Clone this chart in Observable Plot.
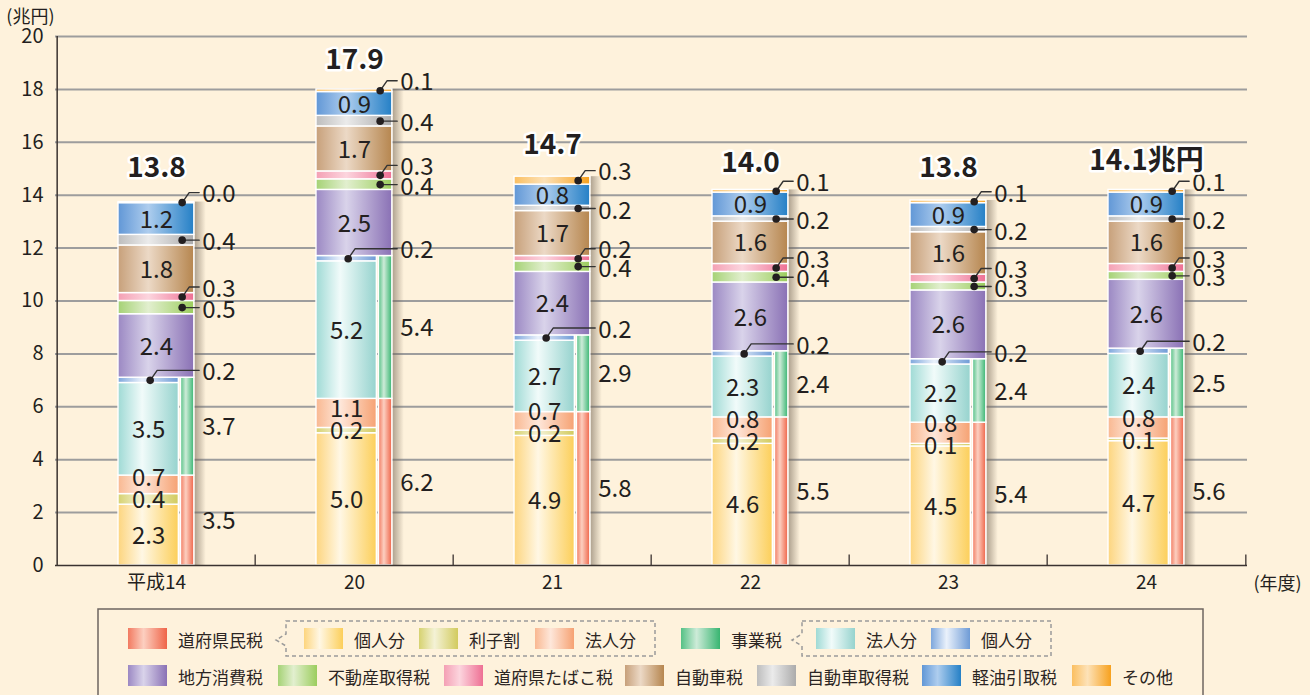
<!DOCTYPE html>
<html>
<head>
<meta charset="utf-8">
<script src="https://cdn.jsdelivr.net/npm/d3@7"></script>
<script src="https://cdn.jsdelivr.net/npm/@observablehq/plot@0.6"></script>
<style>
html,body{margin:0;padding:0;background:#fef2dc;}
body{width:1310px;height:695px;position:relative;overflow:hidden;font-family:"Noto Sans CJK JP","Noto Sans",sans-serif;color:#231f20;}
#chart{position:absolute;left:0;top:0;}
#legend{position:absolute;left:0;top:600px;}
</style>
</head>
<body>
<div id="chart"></div>
<div id="legend"></div>
<script>
// ---------------- data (兆円) ----------------
const years        = ["平成14", "20", "21", "22", "23", "24"];
const kojin        = [2.3, 5.0, 4.9, 4.6, 4.5, 4.7];   // 道府県民税 個人分
const rishiwari    = [0.4, 0.2, 0.2, 0.2, 0.1, 0.1];   // 道府県民税 利子割
const houjin       = [0.7, 1.1, 0.7, 0.8, 0.8, 0.8];   // 道府県民税 法人分
const fukenminzei  = [3.5, 6.2, 5.8, 5.5, 5.4, 5.6];   // 道府県民税 計
const jigyouHoujin = [3.5, 5.2, 2.7, 2.3, 2.2, 2.4];   // 事業税 法人分
const jigyouKojin  = [0.2, 0.2, 0.2, 0.2, 0.2, 0.2];   // 事業税 個人分
const jigyouzei    = [3.7, 5.4, 2.9, 2.4, 2.4, 2.5];   // 事業税 計
const chihouShouhi = [2.4, 2.5, 2.4, 2.6, 2.6, 2.6];   // 地方消費税
const fudousan     = [0.5, 0.4, 0.4, 0.4, 0.3, 0.3];   // 不動産取得税
const tabako       = [0.3, 0.3, 0.2, 0.3, 0.3, 0.3];   // 道府県たばこ税
const jidousha     = [1.8, 1.7, 1.7, 1.6, 1.6, 1.6];   // 自動車税
const shutoku      = [0.4, 0.4, 0.2, 0.2, 0.2, 0.2];   // 自動車取得税
const keiyu        = [1.2, 0.9, 0.8, 0.9, 0.9, 0.9];   // 軽油引取税
const sonota       = [0.04, 0.1, 0.3, 0.1, 0.1, 0.1];  // その他 (shown as 0.0 in 平成14)
const totals       = [13.8, 17.9, 14.7, 14.0, 13.8, 14.1];
const yTicks       = [0, 2, 4, 6, 8, 10, 12, 14, 16, 18, 20];

const legendRow1 = [["道府県民税","fukenmin"],["個人分","kojin"],["利子割","rishi"],["法人分","houjin"],
                    ["事業税","jigyou"],["法人分","jHoujin"],["個人分","jKojin"]];
const legendRow2 = [["地方消費税","chihou"],["不動産取得税","fudousan"],["道府県たばこ税","tabako"],["自動車税","jidousha"],
                    ["自動車取得税","shutoku"],["軽油引取税","keiyu"],["その他","sonota"]];

// gradient colours (left, light, right)
const grads = {
  kojin:    ["#fdd57e", "#fff7e4", "#fccf5a"],
  rishi:    ["#d6d270", "#f4f2d6", "#d2cb5e"],
  houjin:   ["#f9b891", "#fee7da", "#f6a273"],
  fukenmin: ["#f27a60", "#fccfc0", "#ef6448"],
  jigyou:   ["#55c185", "#cdebd8", "#38b571"],
  jHoujin:  ["#9fdad5", "#f1fbfa", "#96d3ce"],
  jKojin:   ["#7ea7dc", "#eaf1fb", "#6e9bd6"],
  chihou:   ["#9b88c3", "#d9d3ea", "#8a71b5"],
  fudousan: ["#a5d275", "#e2efcf", "#9bcd5d"],
  tabako:   ["#f4a0b4", "#fcd5de", "#ee7094"],
  jidousha: ["#c7a07a", "#ecd9c6", "#b6864f"],
  shutoku:  ["#bdbdbd", "#ebebeb", "#ababab"],
  keiyu:    ["#6197d6", "#aecdee", "#2580c6"],
  sonota:   ["#fbbf60", "#fde2b8", "#f7a11e"]
};

// ---------------- layout ----------------
const W = 1310, H = 605, ML = 55, MR = 63, MT = 36, MB = 40;
const bw = (W - ML - MR) / years.length;
const L0 = 61, L1 = 122, S0 = 123.5, S1 = 137.5; // px offsets inside band
const C = bw / 2;
const ink = "#231f20";

// ---------------- build segments ----------------
const leftSeries = [["kojin", kojin], ["rishi", rishiwari], ["houjin", houjin], ["jHoujin", jigyouHoujin], ["jKojin", jigyouKojin]];
const fullSeries = [["chihou", chihouShouhi], ["fudousan", fudousan], ["tabako", tabako], ["jidousha", jidousha],
                    ["shutoku", shutoku], ["keiyu", keiyu], ["sonota", sonota]];
const segs = [], sides = [], bars = [];
years.forEach((yr, i) => {
  let c = 0; const s = {};
  for (const [k, arr] of leftSeries) { const d = {year: yr, key: k, part: "left", v: arr[i], y1: c, y2: c + arr[i]}; c += arr[i]; segs.push(d); s[k] = d; }
  s.houjin.anchor = (s.rishi.y1 + s.rishi.y2) / 2;
  sides.push({year: yr, key: "fukenmin", y1: 0, y2: s.houjin.y2, label: fukenminzei[i]});
  sides.push({year: yr, key: "jigyou", y1: s.houjin.y2, y2: s.jKojin.y2, label: jigyouzei[i]});
  for (const [k, arr] of fullSeries) { const d = {year: yr, key: k, part: "full", v: arr[i], y1: c, y2: c + arr[i]}; c += arr[i]; segs.push(d); }
  bars.push({year: yr, top: c, total: totals[i], label: totals[i].toFixed(1) + (i === years.length - 1 ? "兆円" : "")});
});
const mid = d => (d.y1 + d.y2) / 2;
const fmt = d => d.v.toFixed(1);
const g = d => `url(#g_${d.key})`;

const leaderShape = (pts) => ({draw(ctx) { ctx.moveTo(pts[0][0], pts[0][1]); for (const p of pts.slice(1)) ctx.lineTo(p[0], p[1]); }});
const diagShort = leaderShape([[0, 0], [7, -10], [17, -10]]);
const flatShort = leaderShape([[0, 0], [17, 0]]);
const diagLong  = leaderShape([[0, 0], [7, -10], [49, -10]]);

const diagKeys = ["tabako", "sonota"], flatKeys = ["fudousan", "shutoku"];
const diagRows = segs.filter(d => diagKeys.includes(d.key));
const flatRows = segs.filter(d => flatKeys.includes(d.key));
const jkRows   = segs.filter(d => d.key === "jKojin");

const plot = Plot.plot({
  width: W, height: H,
  marginLeft: ML, marginRight: MR, marginTop: MT, marginBottom: MB,
  x: {type: "band", domain: years, padding: 0, label: null},
  y: {domain: [0, 20], label: null},
  color: {type: "identity"},
  style: {background: "transparent", fontFamily: '"Noto Sans CJK JP","Noto Sans",sans-serif', color: ink, overflow: "visible"},
  marks: [
    Plot.ruleY(yTicks.filter(d => d > 0), {stroke: "#9d9d9d", strokeWidth: 2}),
    // shadows
    Plot.barY(bars, {x: "year", y1: 0, y2: "top", fill: () => "url(#shadow)", insetLeft: S1, insetRight: bw - S1 - 12}),
    // segments
    Plot.barY(segs.filter(d => d.part === "left"), {x: "year", y1: "y1", y2: "y2", fill: g, stroke: "#ffffff", strokeWidth: 1.4, insetLeft: L0, insetRight: bw - L1}),
    Plot.barY(sides, {x: "year", y1: "y1", y2: "y2", fill: g, stroke: "#ffffff", strokeWidth: 1.4, insetLeft: S0, insetRight: bw - S1}),
    Plot.barY(segs.filter(d => d.part === "full"), {x: "year", y1: "y1", y2: "y2", fill: g, stroke: "#ffffff", strokeWidth: 1.4, insetLeft: L0, insetRight: bw - S1}),
    // axes lines
    Plot.ruleY([0], {stroke: "#3a3330", strokeWidth: 1.5}),
    Plot.ruleX([years[0]], {x: d => d, dx: -C, y1: 0, y2: 20, stroke: "#3a3330", strokeWidth: 1.5}),
    Plot.ruleX(years.slice(1), {x: d => d, dx: -C, y1: 0, y2: 0.4, stroke: "#3a3330", strokeWidth: 1.3}),
    Plot.ruleX([years[years.length - 1]], {x: d => d, dx: C, y1: 0, y2: 0.4, stroke: "#3a3330", strokeWidth: 1.3}),
    Plot.axisY({ticks: yTicks, tickSize: 0, tickPadding: 12, fontSize: 20}),
    Plot.axisX({tickSize: 0, tickPadding: 10, fontSize: 19}),
    Plot.text(["(兆円)"], {text: d => d, frameAnchor: "top-left", textAnchor: "end", lineAnchor: "middle", dx: -1, dy: -19, fontSize: 18}),
    Plot.text(["(年度)"], {text: d => d, frameAnchor: "bottom-right", textAnchor: "start", lineAnchor: "middle", dx: 6, dy: 19, fontSize: 18}),
    // inside labels
    Plot.text(segs.filter(d => ["kojin", "jHoujin", "rishi"].includes(d.key)), {x: "year", y: mid, text: fmt, dx: (L0 + L1) / 2 - C, dy: 1, fontSize: 24, fill: ink}),
    Plot.text(segs.filter(d => d.key === "houjin"), {x: "year", y: "anchor", text: fmt, dx: (L0 + L1) / 2 - C, dy: -21, fontSize: 24, fill: ink}),
    Plot.text(segs.filter(d => ["chihou", "jidousha", "keiyu"].includes(d.key)), {x: "year", y: mid, text: fmt, dx: (L0 + S1) / 2 - C, dy: 1, fontSize: 24, fill: ink}),
    // side totals
    Plot.text(sides, {x: "year", y: mid, text: d => d.label.toFixed(1), dx: 145 - C, dy: 1, textAnchor: "start", fontSize: 24, fill: ink}),
    // leaders
    Plot.vector(diagRows, {x: "year", y: mid, length: 1, anchor: "start", shape: diagShort, stroke: "#333", strokeWidth: 1.4, fill: "none", dx: 125 - C}),
    Plot.vector(flatRows, {x: "year", y: mid, length: 1, anchor: "start", shape: flatShort, stroke: "#333", strokeWidth: 1.4, fill: "none", dx: 125 - C}),
    Plot.vector(jkRows, {x: "year", y: mid, length: 1, anchor: "start", shape: diagLong, stroke: "#333", strokeWidth: 1.4, fill: "none", dx: 93 - C}),
    Plot.dot(diagRows.concat(flatRows), {x: "year", y: mid, r: 3.8, fill: ink, dx: 125 - C}),
    Plot.dot(jkRows, {x: "year", y: mid, r: 3.8, fill: ink, dx: 93 - C}),
    Plot.text(diagRows.concat(jkRows), {x: "year", y: mid, text: fmt, dx: 145 - C, dy: -8, textAnchor: "start", fontSize: 24, fill: ink}),
    Plot.text(flatRows, {x: "year", y: mid, text: fmt, dx: 145 - C, dy: 2.5, textAnchor: "start", fontSize: 24, fill: ink}),
    // totals
    Plot.text(bars, {x: "year", y: "total", text: "label", dy: -32, fontSize: 28, fontWeight: "bold", fill: ink, stroke: "#ffffff", strokeWidth: 5, paintOrder: "stroke"})
  ]
});
document.getElementById("chart").appendChild(plot);

// gradient definitions
const svg = d3.select(plot);
const defs = svg.insert("defs", ":first-child");
for (const [k, st] of Object.entries(grads)) {
  const lg = defs.append("linearGradient").attr("id", "g_" + k).attr("x1", 0).attr("x2", 1).attr("y1", 0).attr("y2", 0);
  [[0, st[0]], [0.4, st[1]], [1, st[2]]].forEach(([o, c]) => lg.append("stop").attr("offset", o).attr("stop-color", c));
}
const sh = defs.append("linearGradient").attr("id", "shadow").attr("x1", 0).attr("x2", 1).attr("y1", 0).attr("y2", 0);
sh.append("stop").attr("offset", 0).attr("stop-color", "#6e6050").attr("stop-opacity", 0.55);
sh.append("stop").attr("offset", 1).attr("stop-color", "#6e6050").attr("stop-opacity", 0);

// ---------------- legend ----------------
const row1X = [128, 304, 419, 535, 681, 816, 931];
const row2X = [128, 278, 444, 625, 757, 922, 1072];
const lsvg = d3.select("#legend").append("svg").attr("width", W).attr("height", 95)
  .style("font-family", '"Noto Sans CJK JP","Noto Sans",sans-serif');
const oy = 600;
lsvg.append("rect").attr("x", 98).attr("y", 609 - oy).attr("width", 1105).attr("height", 120)
  .attr("fill", "none").attr("stroke", "#6e6660").attr("stroke-width", 1.5);
const bracket = (x0, x1) => `M${x0},${621 - oy}H${x1}V${656 - oy}H${x0}V${646 - oy}L${x0 - 10},${640 - oy}L${x0},${634 - oy}Z`;
[[286, 655], [802, 1051]].forEach(([a, b]) => lsvg.append("path").attr("d", bracket(a, b))
  .attr("fill", "none").attr("stroke", "#9a9a9a").attr("stroke-width", 1.5).attr("stroke-dasharray", "4,3"));
const drawRow = (items, xs, ySw, yTxt) => items.forEach(([name, key], i) => {
  lsvg.append("rect").attr("x", xs[i]).attr("y", ySw - oy).attr("width", 39).attr("height", 21).attr("fill", `url(#g_${key})`);
  lsvg.append("text").attr("x", xs[i] + 50).attr("y", yTxt - oy).attr("dominant-baseline", "central")
    .attr("font-size", 17).attr("fill", "#2b2523").text(name);
});
drawRow(legendRow1, row1X, 628, 639);
drawRow(legendRow2, row2X, 665, 676);
</script>
</body>
</html>
